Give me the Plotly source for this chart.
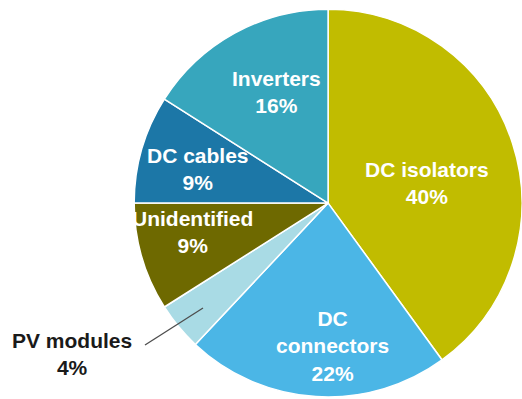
import plotly.graph_objects as go

# Share of reported faults by component
categories = ["DC isolators", "DC connectors", "PV modules", "Unidentified", "DC cables", "Inverters"]
shares = [40, 22, 4, 9, 9, 16]
colors = ["#C1BC00", "#4BB6E6", "#A9DBE5", "#6E6900", "#1C77A7", "#37A6BD"]

# label display lines (multi-word names wrap where the chart wraps them)
label_lines = {
    "DC connectors": "DC<br>connectors",
}

W, H = 522, 399
FONT = "Liberation Sans, Arial, sans-serif"

fig = go.Figure(
    go.Pie(
        labels=categories,
        values=shares,
        sort=False,
        direction="clockwise",
        rotation=0,
        marker=dict(colors=colors, line=dict(color="white", width=1.5)),
        textinfo="none",
        hoverinfo="label+percent",
        domain=dict(x=[0.257, 1.0], y=[0.005, 0.977]),
        showlegend=False,
    )
)

# label anchor points in pixels (centre of each text block)
label_pos = {
    "DC isolators": (427, 183),
    "DC connectors": (332, 346),
    "PV modules": (72, 354),
    "Unidentified": (192, 232),
    "DC cables": (198, 169),
    "Inverters": (276, 92),
}

for name, val in zip(categories, shares):
    text = f"<b>{label_lines.get(name, name)}<br>{val}%</b>"
    px, py = label_pos[name]
    fig.add_annotation(
        x=px / W, y=1 - py / H, xref="paper", yref="paper",
        xanchor="center", yanchor="middle",
        text=text, showarrow=False,
        font=dict(family=FONT, size=21,
                  color="#1A1A1A" if name == "PV modules" else "white"),
        align="center",
    )

# leader line from the PV modules label into its slice
fig.add_shape(
    type="line", xref="paper", yref="paper",
    x0=145 / W, y0=1 - 345 / H, x1=203 / W, y1=1 - 308 / H,
    line=dict(color="#4D4D4D", width=1.3),
)

fig.update_layout(
    width=W, height=H,
    margin=dict(l=0, r=0, t=0, b=0),
    paper_bgcolor="white",
    plot_bgcolor="white",
)

fig.write_html("out.html")
